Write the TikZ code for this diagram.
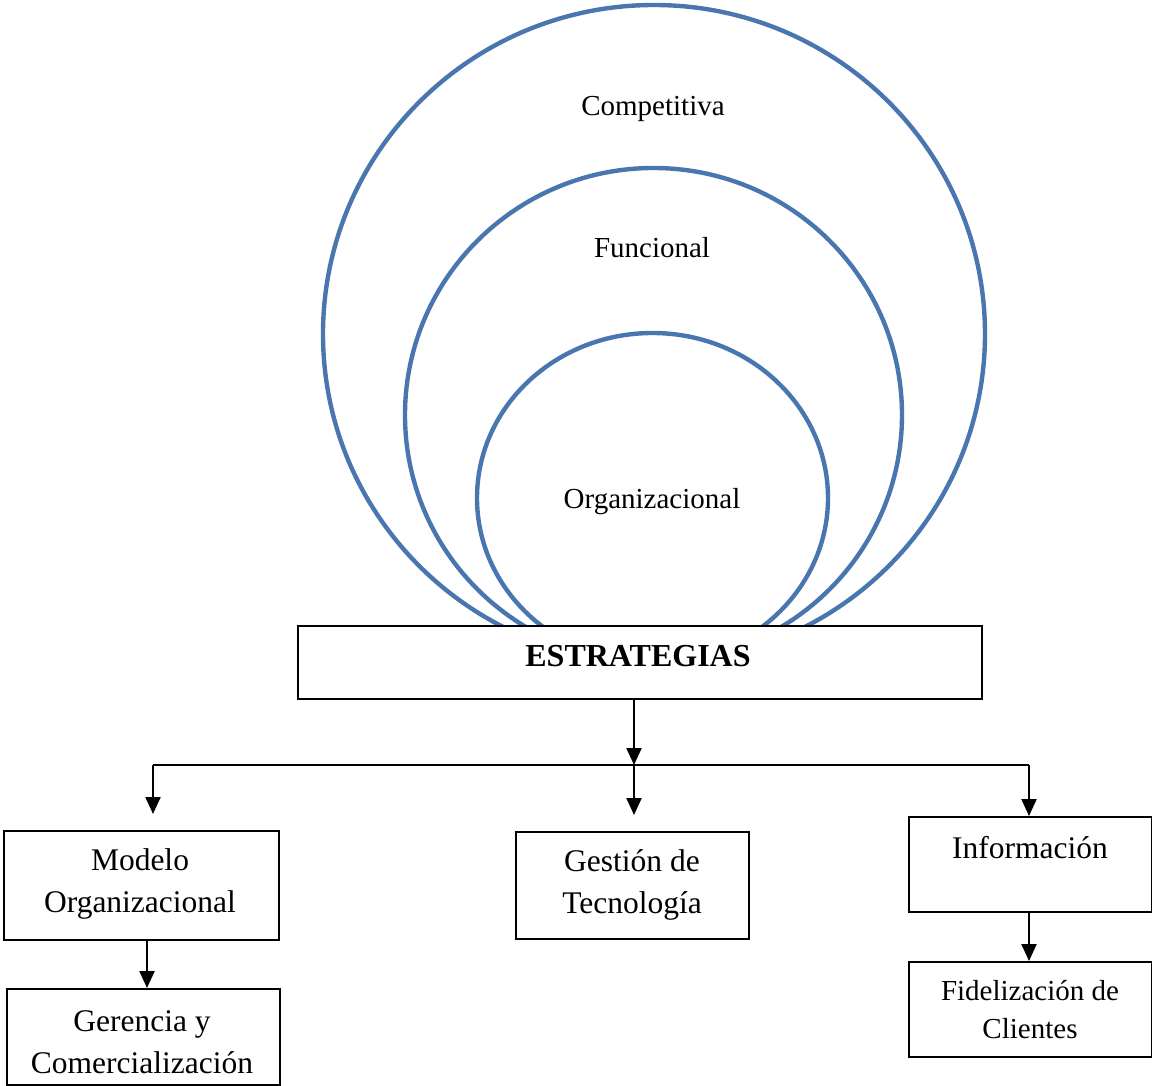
\documentclass[tikz,border=0pt]{standalone}
\usepackage{fontspec}
\setmainfont{Liberation Serif}
\usetikzlibrary{arrows.meta}
\definecolor{ringblue}{HTML}{4A76B0}
\tikzset{
  ring/.style={draw=ringblue, line width=4.4pt},
  box/.style={draw=black, line width=1.7pt, fill=white, inner sep=0pt, anchor=north west},
  lbl/.style={inner sep=0pt, align=center, font=\fontsize{31.5}{42}\selectfont},
  rlbl/.style={inner sep=0pt, font=\fontsize{29}{36}\selectfont},
  conn/.style={draw=black, line width=2.2pt},
  arr/.style={conn, -{Triangle[width=15pt,length=17pt]}}
}
\begin{document}
\begin{tikzpicture}[x=1pt,y=-1pt]
\useasboundingbox (0,0) rectangle (1152,1086);
% rings
\begin{scope}
\clip (0,0) rectangle (1152,626);
\draw[ring] (654,334) ellipse [x radius=331pt, y radius=329pt];
\draw[ring] (653.5,415) ellipse [x radius=248.5pt, y radius=247pt];
\draw[ring] (652.5,498) ellipse [x radius=175.5pt, y radius=165pt];
\end{scope}
\node[rlbl] (tcomp) at (653,109) {Competitiva};
\node[rlbl] (tfunc) at (652,248) {Funcional};
\node[rlbl] (torg) at (652,502) {Organizacional};
% boxes
\node[box, minimum width=684pt, minimum height=73pt] (strat) at (297,625) {};
\node[box, minimum width=275pt, minimum height=109pt] (modelo) at (3,830) {};
\node[box, minimum width=233pt, minimum height=107pt] (gestion) at (515,831) {};
\node[box, minimum width=243pt, minimum height=95pt] (info) at (908,816) {};
\node[box, minimum width=243pt, minimum height=95pt] (fidel) at (908,961) {};
\node[box, minimum width=273pt, minimum height=96pt] (geren) at (6,988) {};
% texts
\node[inner sep=0pt, font=\fontsize{32}{38}\selectfont\bfseries] (tstrat) at (638,656) {ESTRATEGIAS};
\node[lbl] (tmodelo) at (140,884) {Modelo\\Organizacional};
\node[lbl] (tgestion) at (632,885) {Gestión de\\Tecnología};
\node[lbl] (tinfo) at (1030,848) {Información};
\node[lbl, font=\fontsize{29}{38}\selectfont] (tfidel) at (1030,1010) {Fidelización de\\Clientes};
\node[lbl] (tgeren) at (142,1042) {Gerencia y\\Comercialización};
% connectors
\coordinate (jm) at (634,765);
\coordinate (jl) at (153,765);
\coordinate (jr) at (1029,765);
\coordinate (xl) at (147,0);
\coordinate (xr) at (1029,0);
\draw[arr] (strat.south -| jm) -- (jm);
\draw[conn] (jl) -- (jr);
\draw[arr, shorten >=16pt] (jl) -- (jl |- modelo.north);
\draw[arr, shorten >=16pt] (jm) -- (jm |- gestion.north);
\draw[arr] (jr) -- (jr |- info.north);
\draw[arr] (modelo.south -| xl) -- (geren.north -| xl);
\draw[arr] (info.south -| xr) -- (fidel.north -| xr);
\end{tikzpicture}
\end{document}
